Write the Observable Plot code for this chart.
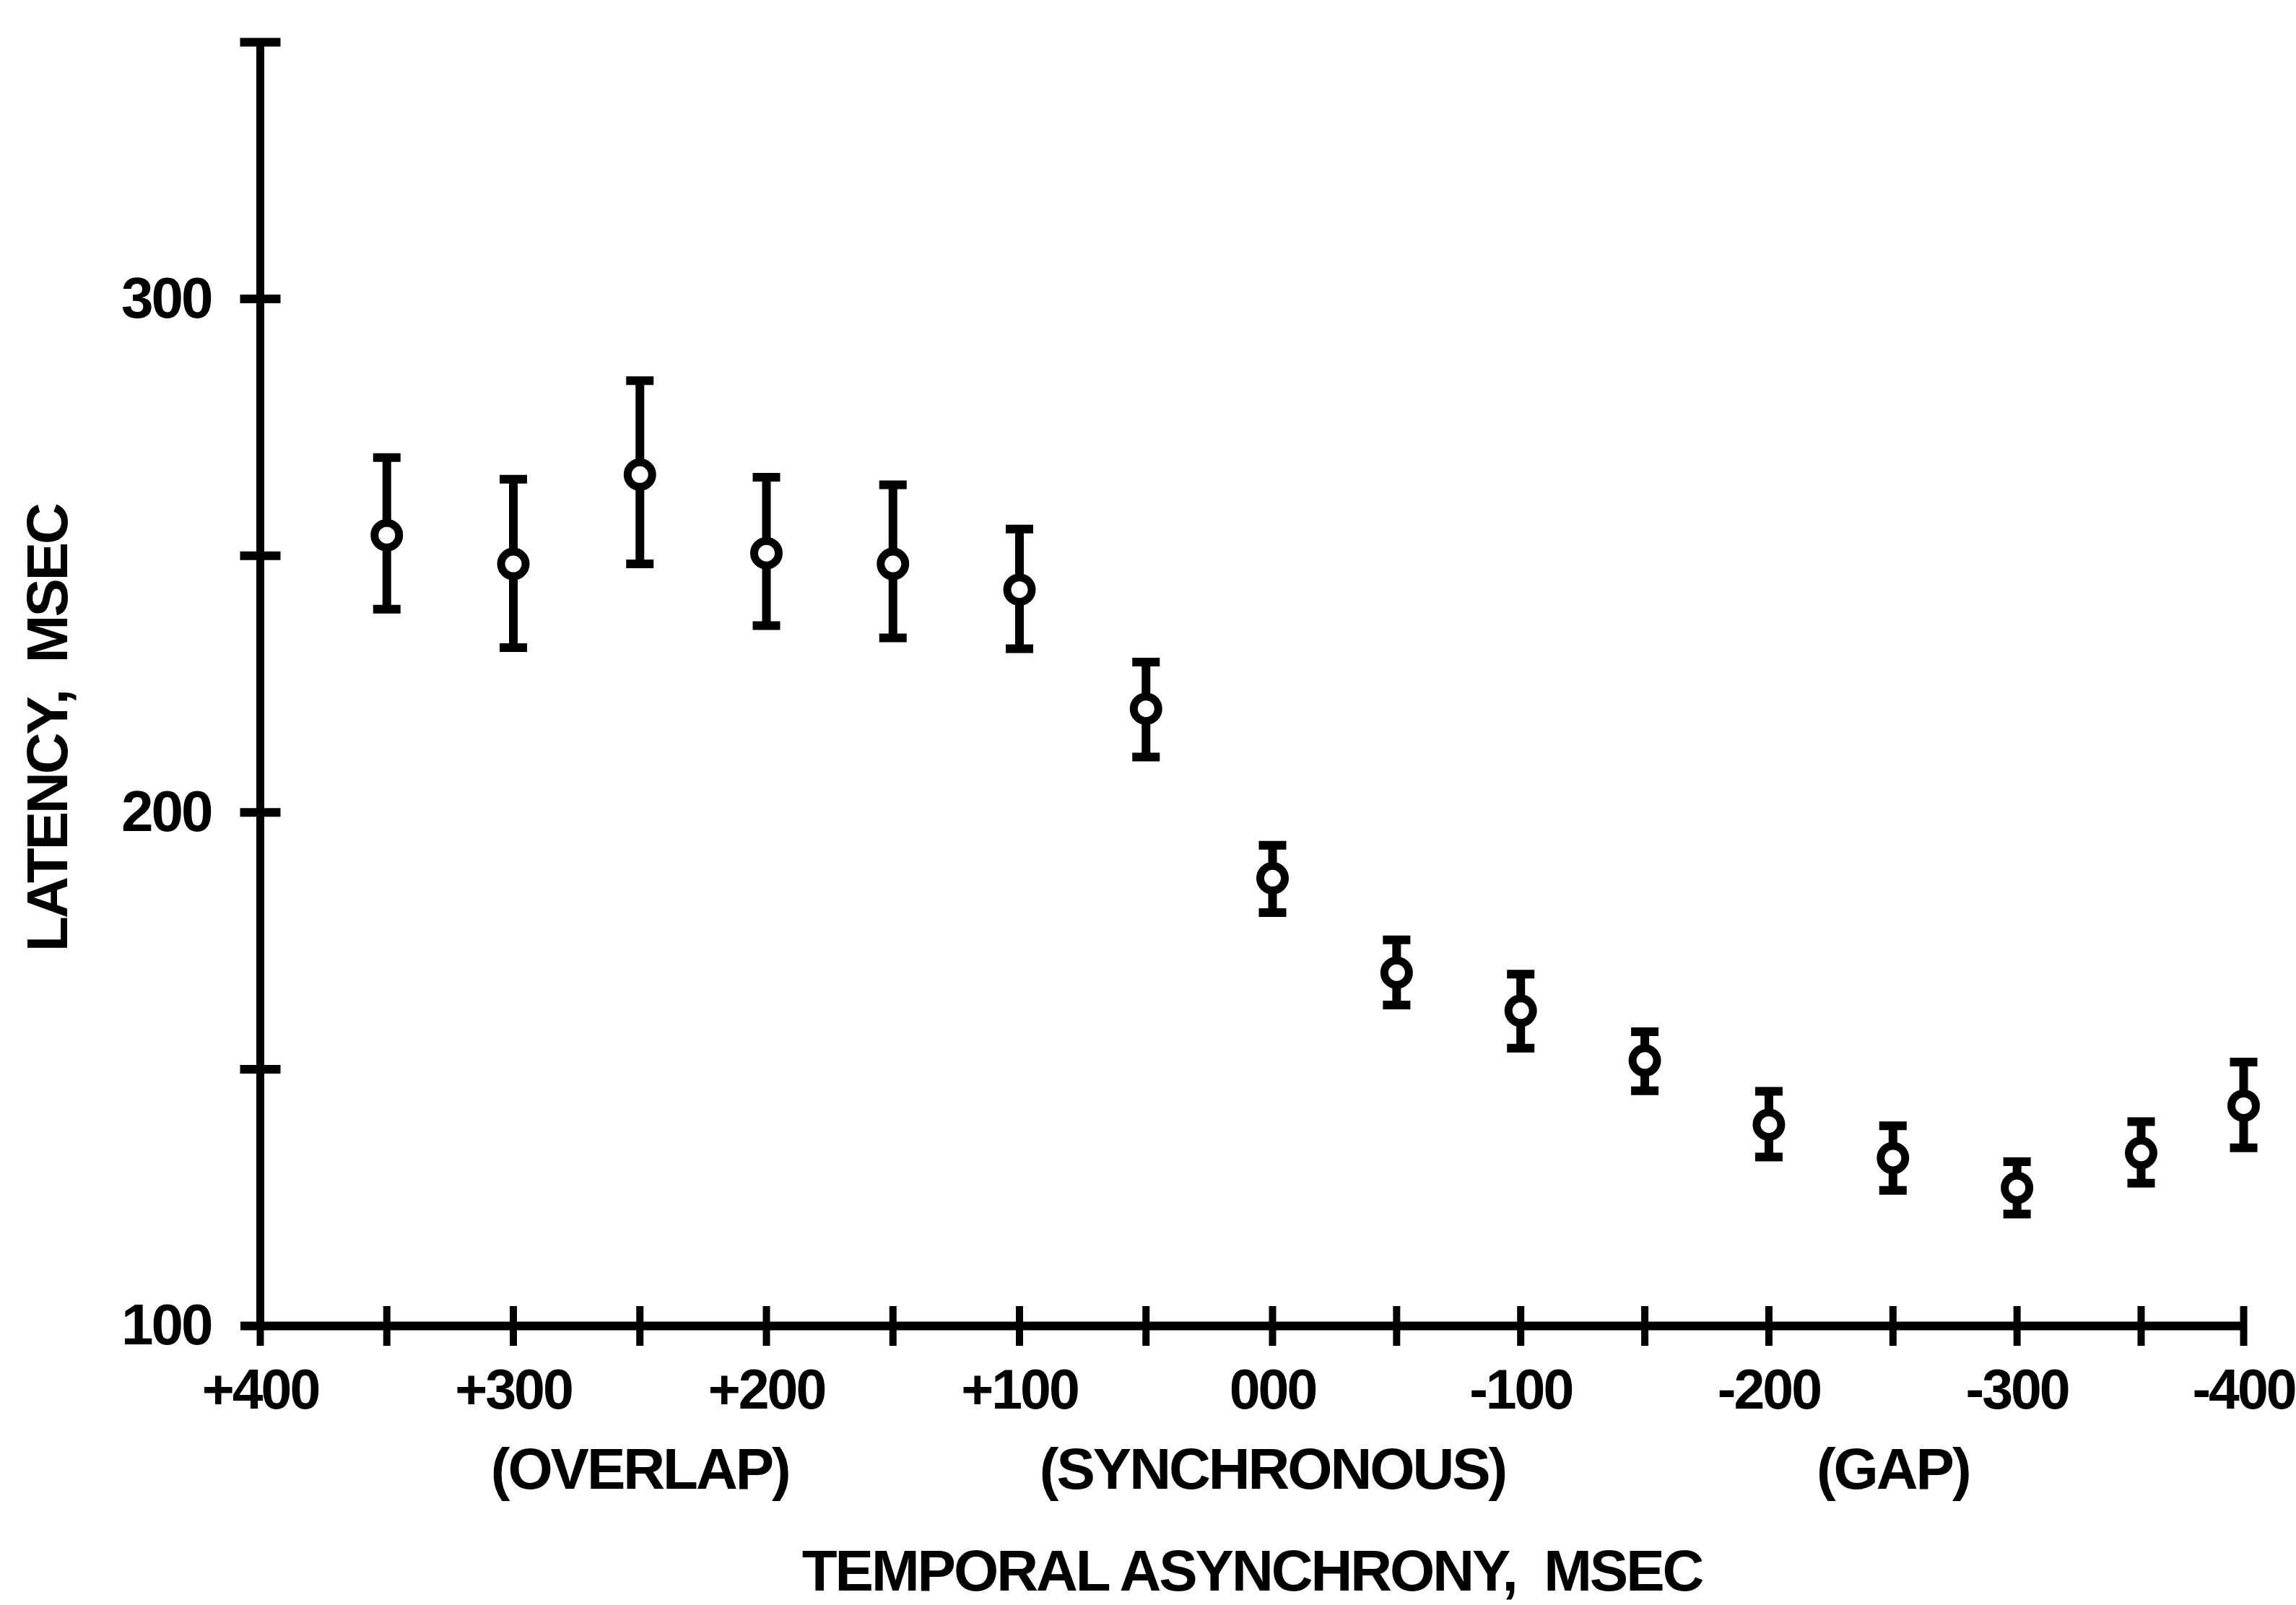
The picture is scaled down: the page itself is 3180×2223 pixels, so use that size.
<!DOCTYPE html>
<html>
<head>
<meta charset="utf-8">
<script src="https://cdn.jsdelivr.net/npm/d3@7"></script>
<script src="https://cdn.jsdelivr.net/npm/@observablehq/plot@0.6"></script>
<style>
  html, body { margin: 0; padding: 0; background: #fff; }
  #chart svg { display: block; }
</style>
</head>
<body>
<div id="chart"></div>
<script>
// ---- data ----
const asynchrony = [350, 300, 250, 200, 150, 100, 50, 0, -50, -100, -150, -200, -250, -300, -350, -400];
const latency    = [254.0, 248.4, 265.8, 250.5, 248.4, 243.4, 220.2, 187.2, 168.8, 161.4, 151.7, 139.2, 132.7, 126.9, 133.7, 142.9];
const upper      = [269.1, 264.9, 284.1, 265.3, 263.8, 255.2, 229.3, 193.6, 175.2, 168.5, 157.3, 145.7, 139.0, 132.0, 139.8, 151.4];
const lower      = [239.6, 232.1, 248.4, 236.4, 234.0, 231.9, 210.8, 180.5, 162.5, 154.1, 145.8, 132.9, 126.4, 121.8, 127.8, 134.7];

const xTickValues  = [400, 350, 300, 250, 200, 150, 100, 50, 0, -50, -100, -150, -200, -250, -300, -350, -400];
const xLabelValues = [400, 300, 200, 100, 0, -100, -200, -300, -400];
const xLabelTexts  = ["+400", "+300", "+200", "+100", "000", "-100", "-200", "-300", "-400"];
const yTickValues  = [150, 200, 250, 300, 350];
const yLabelValues = [100, 200, 300];
const regionValues = [250, 0, -250];
const regionLabels = ["(OVERLAP)", "(SYNCHRONOUS)", "(GAP)"];
const xTitle = "TEMPORAL ASYNCHRONY,  MSEC";
const yTitle = "LATENCY,  MSEC";

// ---- build table ----
const rows = asynchrony.map((x, i) => ({x, mean: latency[i], hi: upper[i], lo: lower[i]}));

// fixed-pixel rectangle symbol (ticks and caps)
const rectSymbol = (w, h) => ({draw(ctx) { ctx.rect(-w / 2, -h / 2, w, h); }});

const font = {fontSize: 80, fontWeight: "bold", fill: "black", lineAnchor: "middle"};
const tickFont = {...font, fontSize: 77};

const chart = Plot.plot({
  width: 3180,
  height: 2223,
  marginLeft: 360,
  marginRight: 73,
  marginTop: 58,
  marginBottom: 387,
  x: {type: "linear", domain: [400, 0, -350, -400], range: [360, 1762, 2965, 3107], axis: null},
  y: {type: "linear", domain: [100, 350], range: [1836, 58], axis: null},
  style: {
    background: "white",
    color: "black",
    fontFamily: "'Liberation Sans', Arial, Helvetica, sans-serif",
    letterSpacing: "-3px",
    whiteSpace: "pre"
  },
  marks: [
    // axes lines
    Plot.ruleY([100], {insetLeft: -27, stroke: "black", strokeWidth: 12}),
    Plot.ruleX([400], {y1: 100, y2: 350, stroke: "black", strokeWidth: 11}),
    // x ticks crossing the axis
    Plot.dot(xTickValues, {x: d => d, y: () => 100, symbol: rectSymbol(10, 55), fill: "black", stroke: "none"}),
    // y ticks crossing the axis
    Plot.dot(yTickValues, {x: () => 400, y: d => d, symbol: rectSymbol(56, 12), fill: "black", stroke: "none"}),
    // error bars
    Plot.ruleX(rows, {x: "x", y1: "lo", y2: "hi", stroke: "black", strokeWidth: 12}),
    Plot.dot(rows, {x: "x", y: "hi", symbol: rectSymbol(38, 12), fill: "black", stroke: "none"}),
    Plot.dot(rows, {x: "x", y: "lo", symbol: rectSymbol(38, 12), fill: "black", stroke: "none"}),
    // open circle markers
    Plot.dot(rows, {x: "x", y: "mean", r: 17, fill: "white", stroke: "black", strokeWidth: 11}),
    // tick labels
    Plot.text(xLabelValues, {x: d => d, text: (d, i) => xLabelTexts[i], frameAnchor: "bottom", dy: 90, textAnchor: "middle", ...tickFont}),
    Plot.text(yLabelValues, {y: d => d, text: d => String(d), frameAnchor: "left", dx: -68, textAnchor: "end", ...font}),
    // region labels
    Plot.text(regionValues, {x: d => d, text: (d, i) => regionLabels[i], frameAnchor: "bottom", dy: 200, textAnchor: "middle", ...font}),
    // axis titles
    Plot.text([xTitle], {text: d => d, frameAnchor: "bottom", dy: 341, textAnchor: "middle", ...font}),
    Plot.text([yTitle], {text: d => d, frameAnchor: "left", dx: -293, dy: 61, rotate: -90, textAnchor: "middle", ...font})
  ]
});

document.getElementById("chart").appendChild(chart);
</script>
</body>
</html>
